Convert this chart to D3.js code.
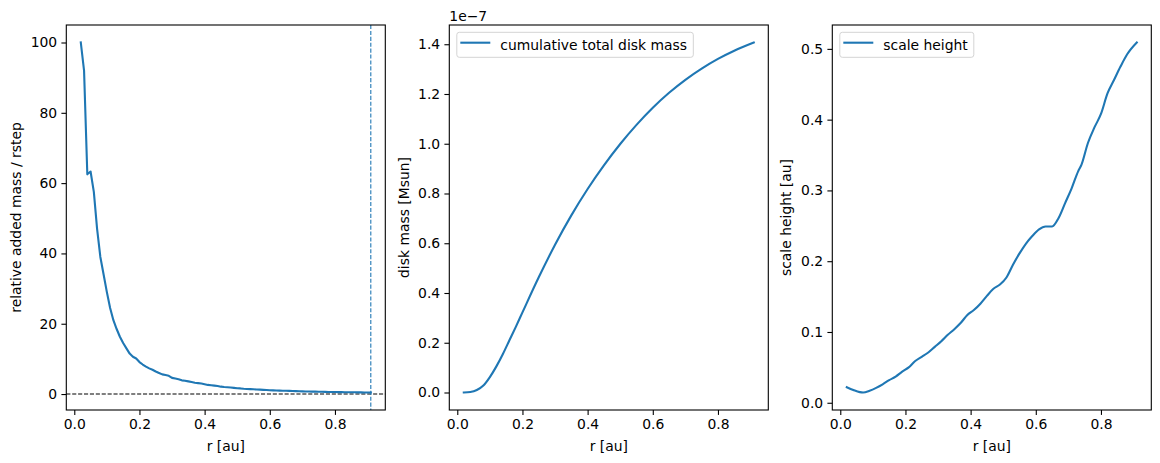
<!DOCTYPE html>
<html>
<head>
<meta charset="utf-8">
<script src="https://cdn.jsdelivr.net/npm/d3@7"></script>
<style>
  body { margin: 0; background: #fff; }
  text { font-family: "DejaVu Sans", sans-serif; }
</style>
</head>
<body>
<div id="chart"></div>
<script>
// panel 1: relative added mass per radial step
const r1 = [0.02,0.03,0.04,0.05,0.06,0.07,0.08,0.09,0.10,0.11,0.12,0.13,0.14,0.15,0.16,0.17,0.18,0.19,0.20,
  0.21,0.22,0.23,0.24,0.25,0.26,0.27,0.28,0.29,0.30,0.31,0.32,0.33,0.34,0.35,0.36,0.37,0.38,0.39,0.40,
  0.41,0.42,0.43,0.44,0.45,0.46,0.47,0.48,0.49,0.50,0.51,0.52,0.53,0.54,0.55,0.56,0.57,0.58,0.59,0.60,
  0.61,0.62,0.63,0.64,0.65,0.66,0.67,0.68,0.69,0.70,0.71,0.72,0.73,0.74,0.75,0.76,0.77,0.78,0.79,0.80,
  0.81,0.82,0.83,0.84,0.85,0.86,0.87,0.88,0.89,0.90,0.91];
const addedMass = [100,92,62.5,63.3,57.5,47,39,34,29,24.5,21,18.5,16.3,14.5,13,11.5,10.6,10.1,9.1,
  8.4,7.8,7.3,6.9,6.4,6.0,5.6,5.4,5.2,4.6,4.4,4.2,3.9,3.8,3.6,3.4,3.2,3.1,3.0,2.8,
  2.6,2.5,2.4,2.3,2.1,2.0,1.95,1.85,1.75,1.65,1.6,1.5,1.45,1.4,1.35,1.3,1.25,1.2,1.15,1.1,
  1.05,1.0,0.97,0.95,0.92,0.9,0.86,0.82,0.8,0.77,0.74,0.72,0.7,0.68,0.66,0.64,0.62,0.6,0.58,0.57,
  0.55,0.54,0.52,0.51,0.5,0.49,0.48,0.47,0.46,0.45,0.44];
const rCut = 0.91;

// panel 2: cumulative total disk mass (units of 1e-7 Msun)
const r2 = [0.02,0.04,0.06,0.08,0.10,0.12,0.14,0.16,0.18,0.20,0.25,0.30,0.35,0.40,0.45,0.50,0.55,0.60,0.65,0.70,0.75,0.80,0.85,0.91];
const diskMass = [0,0.002,0.01,0.028,0.062,0.105,0.155,0.21,0.265,0.322,0.463,0.594,0.712,0.818,0.913,0.999,1.076,1.145,1.205,1.257,1.302,1.341,1.374,1.407];

// panel 3: scale height [au]
const r3 = [0.02,0.04,0.06,0.07,0.09,0.11,0.13,0.15,0.17,0.19,0.21,0.23,0.25,0.27,0.29,0.31,0.33,0.35,0.37,0.39,
  0.41,0.43,0.45,0.47,0.49,0.51,0.53,0.55,0.57,0.59,0.61,0.63,0.65,0.67,0.69,0.71,0.73,0.74,0.76,0.78,
  0.80,0.82,0.84,0.86,0.88,0.91];
const scaleHeight = [0.022,0.018,0.015,0.0145,0.017,0.021,0.026,0.032,0.037,0.044,0.050,0.059,0.065,0.071,0.079,0.087,0.096,0.104,0.113,0.124,
  0.131,0.140,0.151,0.161,0.167,0.177,0.195,0.211,0.225,0.236,0.245,0.249,0.249,0.261,0.282,0.303,0.327,0.336,0.367,0.389,
  0.408,0.437,0.456,0.475,0.492,0.509];

const xTicks = [0.0, 0.2, 0.4, 0.6, 0.8];
const yTicks1 = [0, 20, 40, 60, 80, 100];
const yTicks2 = [0.0, 0.2, 0.4, 0.6, 0.8, 1.0, 1.2, 1.4];
const yTicks3 = [0.0, 0.1, 0.2, 0.3, 0.4, 0.5];

const width = 1160, height = 463;
const blue = "#1f77b4";
const fs = 13.9;

const svg = d3.select("#chart").append("svg")
  .attr("width", width)
  .attr("height", height);

function padded(vals) {
  const [lo, hi] = d3.extent(vals);
  const m = (hi - lo) * 0.05;
  return [lo - m, hi + m];
}

function panel(opt) {
  const left = opt.left, right = opt.left + 319, top = 25, bottom = 410;
  const x = d3.scaleLinear().domain(padded(opt.xs)).range([left, right]);
  const y = d3.scaleLinear().domain(padded(opt.ys)).range([bottom, top]);
  const g = svg.append("g");

  const pts = opt.xs.map((v, i) => [v, opt.ys[i]]);

  if (opt.guides) {
    g.append("line")
      .attr("x1", left).attr("x2", right)
      .attr("y1", y(0)).attr("y2", y(0))
      .attr("stroke", "#000").attr("stroke-width", 1.1)
      .attr("stroke-dasharray", "4.1,1.8");
  }

  g.append("path")
    .datum(pts)
    .attr("fill", "none")
    .attr("stroke", blue)
    .attr("stroke-width", 2.1)
    .attr("stroke-linejoin", "round")
    .attr("stroke-linecap", "square")
    .attr("d", d3.line().x(d => x(d[0])).y(d => y(d[1])).curve(opt.curve || d3.curveLinear));

  if (opt.guides) {
    g.append("line")
      .attr("x1", x(rCut)).attr("x2", x(rCut))
      .attr("y1", top).attr("y2", bottom)
      .attr("stroke", blue).attr("stroke-width", 1.1)
      .attr("stroke-dasharray", "4.1,1.8");
  }

  // axes
  const xa = g.append("g")
    .attr("transform", `translate(0,${bottom})`)
    .call(d3.axisBottom(x).tickValues(xTicks).tickFormat(d3.format(".1f")).tickSize(4.9).tickPadding(4.2));
  const ya = g.append("g")
    .attr("transform", `translate(${left},0)`)
    .call(d3.axisLeft(y).tickValues(opt.yTicks).tickFormat(opt.fmt).tickSize(4.9).tickPadding(4.2));
  [xa, ya].forEach(a => {
    a.select(".domain").remove();
    a.selectAll("line").attr("stroke", "#000").attr("stroke-width", 1.1);
    a.selectAll("text").attr("font-size", fs).attr("fill", "#000")
      .attr("font-family", "DejaVu Sans, sans-serif");
  });

  g.append("rect")
    .attr("x", left).attr("y", top)
    .attr("width", right - left).attr("height", bottom - top)
    .attr("fill", "none").attr("stroke", "#000").attr("stroke-width", 1.1);

  g.append("text")
    .attr("x", (left + right) / 2).attr("y", 451)
    .attr("text-anchor", "middle").attr("font-size", fs)
    .text("r [au]");

  g.append("text")
    .attr("transform", `translate(${opt.yLabelX},${(top + bottom) / 2}) rotate(-90)`)
    .attr("text-anchor", "middle").attr("dominant-baseline", "central")
    .attr("font-size", fs)
    .text(opt.yLabel);

  if (opt.offset) {
    g.append("text")
      .attr("x", left).attr("y", 20.5)
      .attr("font-size", fs)
      .text(opt.offset);
  }

  if (opt.legend) {
    const lx = left + 7.5, ly = 32.3;
    g.append("rect")
      .attr("x", lx).attr("y", ly)
      .attr("width", opt.legendW).attr("height", 25)
      .attr("rx", 2.5)
      .attr("fill", "#fff").attr("fill-opacity", 0.8)
      .attr("stroke", "#d4d4d4").attr("stroke-width", 1);
    g.append("line")
      .attr("x1", lx + 3.5).attr("x2", lx + 33.5)
      .attr("y1", ly + 10.4).attr("y2", ly + 10.4)
      .attr("stroke", blue).attr("stroke-width", 2.1);
    g.append("text")
      .attr("x", lx + 43.5).attr("y", ly + 17.2)
      .attr("font-size", fs)
      .text(opt.legend);
  }
}

panel({
  left: 66.3, xs: r1, ys: addedMass, yTicks: yTicks1, fmt: d3.format("d"),
  yLabel: "relative added mass / rstep", yLabelX: 16, guides: true
});

panel({
  left: 449.3, xs: r2, ys: diskMass, yTicks: yTicks2, fmt: d3.format(".1f"),
  yLabel: "disk mass [Msun]", yLabelX: 403.5, offset: "1e\u22127",
  legend: "cumulative total disk mass", legendW: 236.5, curve: d3.curveMonotoneX
});

panel({
  left: 832.3, xs: r3, ys: scaleHeight, yTicks: yTicks3, fmt: d3.format(".1f"),
  yLabel: "scale height [au]", yLabelX: 786, legend: "scale height", legendW: 134,
  curve: d3.curveMonotoneX
});
</script>
</body>
</html>
